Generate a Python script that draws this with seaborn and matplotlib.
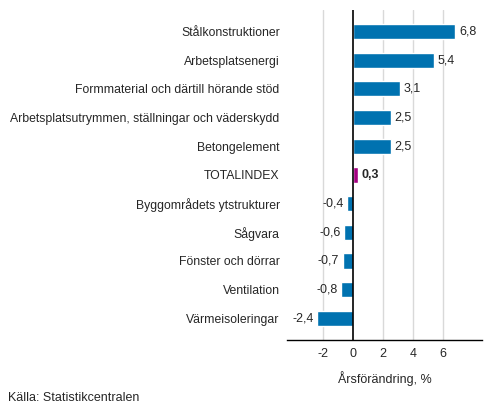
import matplotlib
matplotlib.use("Agg")
import pandas as pd
import matplotlib.pyplot as plt
import seaborn as sns

categories = ["Stålkonstruktioner", "Arbetsplatsenergi", "Formmaterial och därtill hörande stöd",
              "Arbetsplatsutrymmen, ställningar och väderskydd", "Betongelement", "TOTALINDEX",
              "Byggområdets ytstrukturer", "Sågvara", "Fönster och dörrar", "Ventilation",
              "Värmeisoleringar"]
values = [6.8, 5.4, 3.1, 2.5, 2.5, 0.3, -0.4, -0.6, -0.7, -0.8, -2.4]
ticks = [-2, 0, 2, 4, 6]

blue = "#0072B0"
purple = "#A50082"

data = pd.DataFrame({"cat": categories, "val": values})
palette = {c: (purple if c == "TOTALINDEX" else blue) for c in categories}

sns.set_style("white")
plt.rcParams["font.family"] = ["Liberation Sans", "DejaVu Sans"]

fig = plt.figure(figsize=(4.93, 4.16), dpi=100)
ax = fig.add_axes([0.5815, 0.183, 0.3967, 0.793])

sns.barplot(data=data, x="val", y="cat", hue="cat", palette=palette, orient="h",
            width=0.53, legend=False, ax=ax, saturation=1)

ax.set_xlim(-4.44, 8.6)
ax.set_ylim(10.75, -0.75)
ax.set_xticks(ticks)
ax.set_xticklabels([str(t) for t in ticks])
for t in ticks:
    if t != 0:
        ax.axvline(t, color="#d9d9d9", lw=1, zorder=0)
ax.axvline(0, color="black", lw=1.2, zorder=3)

for i, v in enumerate(values):
    txt = f"{v:.1f}".replace(".", ",")
    weight = "bold" if categories[i] == "TOTALINDEX" else "normal"
    if v >= 0:
        ax.text(v + 0.25, i, txt, va="center", ha="left", fontsize=9, fontweight=weight)
    else:
        ax.text(v - 0.25, i, txt, va="center", ha="right", fontsize=9, fontweight=weight)

for s in ["top", "right", "left"]:
    ax.spines[s].set_visible(False)
ax.spines["bottom"].set_color("black")
ax.spines["bottom"].set_linewidth(1)
ax.tick_params(axis="both", length=0, labelsize=9)
ax.tick_params(axis="y", pad=5, labelsize=8.8)
ax.tick_params(axis="x", pad=6)
ax.set_ylabel("")
ax.set_xlabel("Årsförändring, %", fontsize=9, labelpad=8)

fig.text(0.016, 0.043, "Källa: Statistikcentralen", fontsize=9, ha="left", va="center")

fig.savefig("out.png", dpi=100)
